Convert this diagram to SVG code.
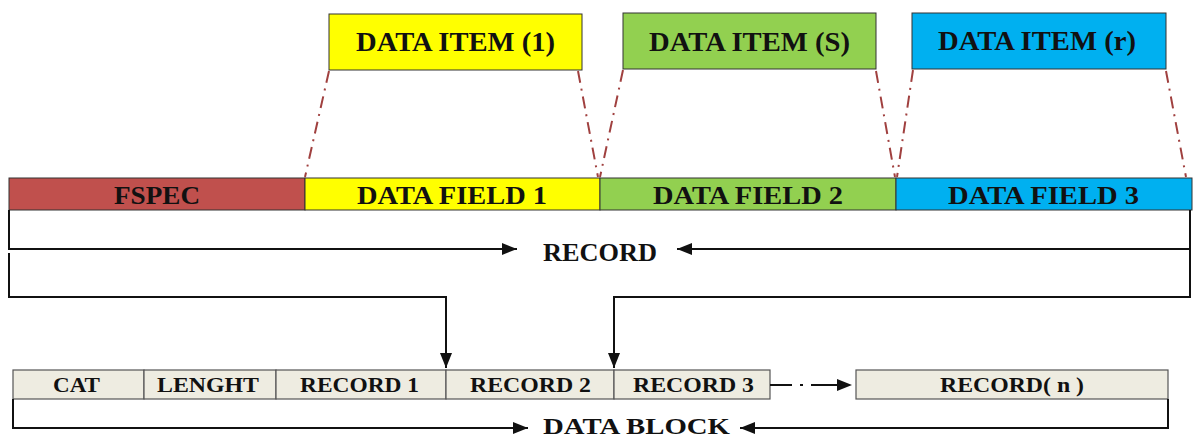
<svg xmlns="http://www.w3.org/2000/svg" width="1195" height="439" viewBox="0 0 1195 439">
  <style>
    text { font-family: "Liberation Serif", "Times New Roman", serif; font-weight: bold; fill: #111; text-anchor: middle; }
    .item { font-size: 27px; }
    .field { font-size: 25px; }
    .cell { font-size: 20px; }
    .label { font-size: 26px; }
    .label-low { font-size: 24px; }
    .box { stroke: #333; stroke-width: 1; }
    .cellbox { fill: #EEECE1; stroke: #555; stroke-width: 1.2; }
    .link { fill: none; stroke: #111; stroke-width: 2; }
    .zoom { fill: none; stroke: #A0403F; stroke-width: 2; stroke-dasharray: 12 6 2 6; }
    .red { fill: #C0504D; }
    .yellow { fill: #FFFF00; }
    .green { fill: #92D050; }
    .blue { fill: #00B0F0; }
  </style>
  <defs>
    <marker id="arrow" viewBox="0 0 15 12" refX="15" refY="6" markerWidth="15" markerHeight="12" markerUnits="userSpaceOnUse" orient="auto">
      <path d="M0,0 L15,6 L0,12 Z" fill="#111"/>
    </marker>
  </defs>

  <!-- expanded data items -->
  <g id="item-1">
    <rect class="box yellow" x="329" y="14" width="253" height="56"/>
    <text class="item" x="455.5" y="51" textLength="199" lengthAdjust="spacingAndGlyphs">DATA ITEM (1)</text>
  </g>
  <g id="item-s">
    <rect class="box green" x="623" y="13" width="253" height="56"/>
    <text class="item" x="749.5" y="51" textLength="201" lengthAdjust="spacingAndGlyphs">DATA ITEM (S)</text>
  </g>
  <g id="item-r">
    <rect class="box blue" x="912" y="13" width="254" height="56"/>
    <text class="item" x="1037" y="50" textLength="198" lengthAdjust="spacingAndGlyphs">DATA ITEM (r)</text>
  </g>

  <!-- record fields -->
  <g id="fspec">
    <rect class="box red" x="9" y="178" width="296" height="32"/>
    <text class="field" x="157" y="203.5" textLength="86" lengthAdjust="spacingAndGlyphs">FSPEC</text>
  </g>
  <g id="field-1">
    <rect class="box yellow" x="305" y="178" width="295" height="32"/>
    <text class="field" x="452" y="203.5" textLength="190" lengthAdjust="spacingAndGlyphs">DATA FIELD 1</text>
  </g>
  <g id="field-2">
    <rect class="box green" x="600" y="178" width="296" height="32"/>
    <text class="field" x="748" y="203.5" textLength="190" lengthAdjust="spacingAndGlyphs">DATA FIELD 2</text>
  </g>
  <g id="field-3">
    <rect class="box blue" x="896" y="178" width="296" height="32"/>
    <text class="field" x="1043.5" y="203.5" textLength="191" lengthAdjust="spacingAndGlyphs">DATA FIELD 3</text>
  </g>

  <!-- data block cells -->
  <g id="cat">
    <rect class="cellbox" x="13" y="370" width="131" height="29"/>
    <text class="cell" x="76.5" y="392" textLength="47" lengthAdjust="spacingAndGlyphs">CAT</text>
  </g>
  <g id="length">
    <rect class="cellbox" x="144" y="370" width="132" height="29"/>
    <text class="cell" x="208" y="392" textLength="102" lengthAdjust="spacingAndGlyphs">LENGHT</text>
  </g>
  <g id="record-1">
    <rect class="cellbox" x="276" y="370" width="170" height="29"/>
    <text class="cell" x="359.5" y="392" textLength="119" lengthAdjust="spacingAndGlyphs">RECORD 1</text>
  </g>
  <g id="record-2">
    <rect class="cellbox" x="446" y="370" width="168" height="29"/>
    <text class="cell" x="530.5" y="392" textLength="121" lengthAdjust="spacingAndGlyphs">RECORD 2</text>
  </g>
  <g id="record-3">
    <rect class="cellbox" x="614" y="370" width="156" height="29"/>
    <text class="cell" x="693.5" y="392" textLength="121" lengthAdjust="spacingAndGlyphs">RECORD 3</text>
  </g>
  <g id="record-n">
    <rect class="cellbox" x="856" y="370" width="312" height="29"/>
    <text class="cell" x="1012" y="392" textLength="144" lengthAdjust="spacingAndGlyphs">RECORD( n )</text>
  </g>

  <!-- span labels -->
  <g id="record-label">
    <text class="label" x="600" y="261" textLength="114" lengthAdjust="spacingAndGlyphs">RECORD</text>
  </g>
  <g id="block-label">
    <text class="label-low" x="636.5" y="434" textLength="187" lengthAdjust="spacingAndGlyphs">DATA BLOCK</text>
  </g>

  <!-- connectors -->
  <g id="connectors">
    <!-- item-to-field expansion guides -->
    <path class="zoom" d="M329,71 L305,177"/>
    <path class="zoom" d="M578,71 L598,177"/>
    <path class="zoom" d="M623,70 L600,177"/>
    <path class="zoom" d="M876,71 L895,177"/>
    <path class="zoom" d="M913,70 L897,177"/>
    <path class="zoom" d="M1166,71 L1186,177"/>

    <!-- record span -->
    <path class="link" d="M9,210 V249 H517" marker-end="url(#arrow)"/>
    <path class="link" d="M1190,210 V249 H677" marker-end="url(#arrow)"/>

    <!-- records placed into the data block -->
    <path class="link" d="M9,253 V297 H446 V368" marker-end="url(#arrow)"/>
    <path class="link" d="M1190,249 V297 H614 V368" marker-end="url(#arrow)"/>

    <!-- continuation to record n -->
    <path class="link" d="M770,385 H852" stroke-dasharray="22 8 3 8 30" marker-end="url(#arrow)"/>

    <!-- data block span -->
    <path class="link" d="M13,399 V428 H528" marker-end="url(#arrow)"/>
    <path class="link" d="M1168,399 V428 H740" marker-end="url(#arrow)"/>
  </g>
</svg>
